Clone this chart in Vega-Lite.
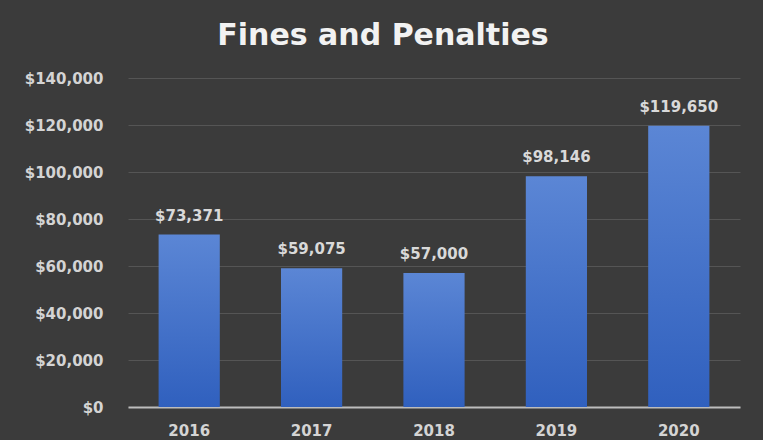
{
  "$schema": "https://vega.github.io/schema/vega-lite/v6.json",
  "autosize": "none",
  "width": 612,
  "height": 329,
  "padding": {"left": 128, "top": 78, "right": 23, "bottom": 33},
  "background": "#3b3b3b",
  "title": {
    "text": "Fines and Penalties",
    "font": "DejaVu Sans",
    "fontSize": 30,
    "fontWeight": "bold",
    "color": "#f2f2f2",
    "anchor": "middle",
    "offset": 20,
    "dx": -51
  },
  "data": {
    "values": [
      {"year": "2016", "amount": 73371},
      {"year": "2017", "amount": 59075},
      {"year": "2018", "amount": 57000},
      {"year": "2019", "amount": 98146},
      {"year": "2020", "amount": 119650}
    ]
  },
  "encoding": {
    "x": {
      "field": "year",
      "type": "ordinal",
      "title": null,
      "scale": {"paddingInner": 0.5, "paddingOuter": 0.25},
      "axis": {
        "labelAngle": 0,
        "labelFont": "DejaVu Sans",
        "labelFontSize": 15,
        "labelFontWeight": "bold",
        "labelColor": "#d4d4d4",
        "labelPadding": 16,
        "ticks": false,
        "domainColor": "#bdbdbd",
        "domainWidth": 2,
        "grid": false
      }
    },
    "y": {
      "field": "amount",
      "type": "quantitative",
      "title": null,
      "scale": {"domain": [0, 140000]},
      "axis": {
        "values": [0, 20000, 40000, 60000, 80000, 100000, 120000, 140000],
        "format": "$,.0f",
        "labelFont": "DejaVu Sans",
        "labelFontSize": 15,
        "labelFontWeight": "bold",
        "labelColor": "#d4d4d4",
        "labelPadding": 25,
        "ticks": false,
        "domain": false,
        "grid": true,
        "gridColor": "#555555",
        "gridWidth": 1
      }
    }
  },
  "layer": [
    {
      "mark": {
        "type": "bar",
        "color": {
          "gradient": "linear",
          "x1": 0, "y1": 0, "x2": 0, "y2": 1,
          "stops": [
            {"offset": 0, "color": "#5b86d5"},
            {"offset": 1, "color": "#3060be"}
          ]
        }
      }
    },
    {
      "mark": {
        "type": "text",
        "font": "DejaVu Sans",
        "fontSize": 15,
        "fontWeight": "bold",
        "color": "#d9d9d9",
        "baseline": "alphabetic",
        "dy": -14
      },
      "encoding": {
        "text": {"field": "amount", "type": "quantitative", "format": "$,.0f"}
      }
    }
  ],
  "config": {"view": {"stroke": null}}
}
